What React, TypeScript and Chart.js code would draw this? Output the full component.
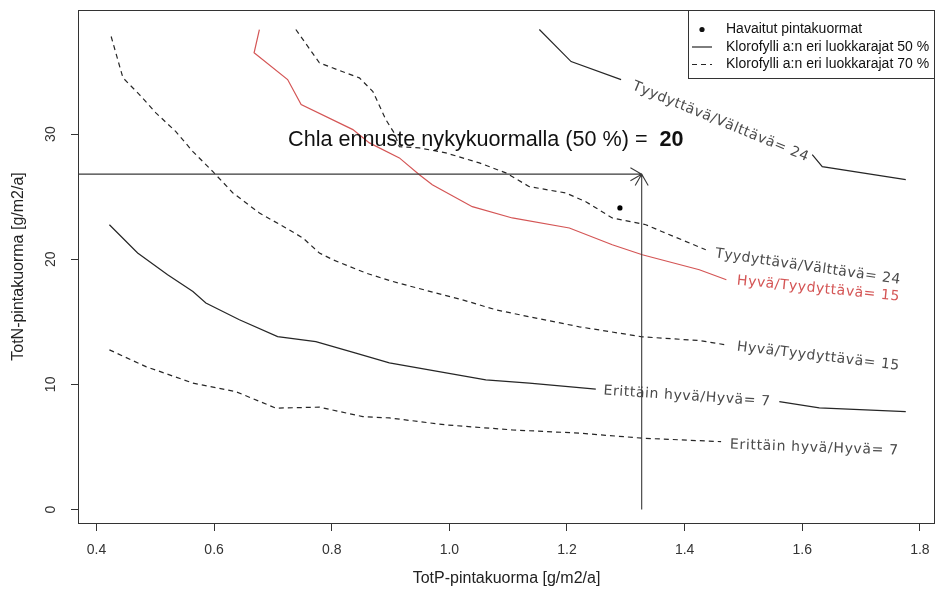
import React, { useEffect, useRef } from "react";
import { Chart, registerables } from "chart.js";

Chart.register(...registerables);

// ---------- data ----------
const X_TICKS = [0.4, 0.6, 0.8, 1.0, 1.2, 1.4, 1.6, 1.8];
const Y_TICKS = [0, 10, 20, 30];
const X_RANGE = [0.3686, 1.8257];
const Y_RANGE = [-1.08, 39.92];

const X_TITLE = "TotP-pintakuorma [g/m2/a]";
const Y_TITLE = "TotN-pintakuorma [g/m2/a]";

const LEGEND_LABELS = [
  "Havaitut pintakuormat",
  "Klorofylli a:n eri luokkarajat 50 %",
  "Klorofylli a:n eri luokkarajat 70 %",
];

// 50 % class limits (solid)
const C50_24_A = [[1.153, 38.36], [1.207, 35.8], [1.292, 34.36]];
const C50_24_B = [[1.617, 28.36], [1.634, 27.4], [1.776, 26.36]];
const C50_15 = [
  [0.677, 38.36], [0.668, 36.5], [0.725, 34.36], [0.748, 32.36], [0.836, 30.36],
  [0.864, 29.3], [0.915, 28.1], [0.949, 26.76], [0.971, 25.96], [1.039, 24.2],
  [1.107, 23.3], [1.204, 22.5], [1.277, 21.16], [1.328, 20.36], [1.425, 19.16],
  [1.471, 18.36],
];
const C50_7_A = [
  [0.422, 22.76], [0.47, 20.5], [0.521, 18.76], [0.564, 17.42], [0.586, 16.5],
  [0.643, 15.16], [0.708, 13.82], [0.773, 13.42], [0.841, 12.5], [0.898, 11.72],
  [1.062, 10.36], [1.136, 10.1], [1.249, 9.62],
];
const C50_7_B = [[1.561, 8.62], [1.629, 8.12], [1.776, 7.82]];

// 70 % class limits (dashed)
const C70_24 = [
  [0.739, 38.36], [0.779, 35.7], [0.801, 35.3], [0.847, 34.5], [0.87, 33.4],
  [0.892, 31.16], [0.906, 30.1], [0.915, 29.0], [0.949, 28.9], [0.994, 28.5],
  [1.051, 27.7], [1.096, 26.9], [1.136, 25.8], [1.198, 25.3], [1.232, 24.6],
  [1.277, 23.3], [1.334, 22.76], [1.362, 22.2], [1.436, 20.76],
];
const C70_15 = [
  [0.425, 37.8], [0.445, 34.5], [0.473, 33.16], [0.501, 31.7], [0.535, 30.2],
  [0.564, 28.6], [0.598, 27.0], [0.632, 25.3], [0.677, 23.7], [0.722, 22.5],
  [0.751, 21.7], [0.779, 20.5], [0.802, 19.96], [0.858, 18.9], [0.898, 18.3],
  [0.937, 17.8], [1.022, 16.76], [1.079, 15.96], [1.136, 15.4], [1.221, 14.6],
  [1.328, 13.8], [1.425, 13.5], [1.47, 13.16],
];
const C70_7 = [
  [0.422, 12.76], [0.484, 11.42], [0.564, 10.1], [0.637, 9.42], [0.705, 8.1],
  [0.779, 8.18], [0.853, 7.42], [0.898, 7.32], [0.994, 6.76], [1.107, 6.36],
  [1.221, 6.1], [1.328, 5.7], [1.462, 5.42],
];

const OBSERVED = [[1.29, 24.1]];
const CURRENT_P = 1.327;
const CURRENT_N = 26.8;
const PREDICTION = 20;
const PRED_TEXT = "Chla ennuste nykykuormalla (50 %) =  ";
const PRED_POS = [1.062, 29.56];

// contour labels: text, start and end of the text line (data units), red?
const LABEL_TEXTS = [
  "Tyydyttävä/Välttävä= 24",
  "Tyydyttävä/Välttävä= 24",
  "Hyvä/Tyydyttävä= 15",
  "Hyvä/Tyydyttävä= 15",
  "Erittäin hyvä/Hyvä= 7",
  "Erittäin hyvä/Hyvä= 7",
];
const LABEL_FROM = [[1.312, 33.88], [1.452, 20.44], [1.489, 18.28], [1.489, 13.0], [1.262, 9.48], [1.477, 5.16]];
const LABEL_TO = [[1.604, 28.2], [1.761, 18.36], [1.761, 17.0], [1.761, 11.48], [1.545, 8.6], [1.763, 4.68]];
const LABEL_RED = [false, false, true, false, false, false];

// ---------- styles ----------
const BLACK = "#262626";
const RED = "#d45555";
const LABEL_GRAY = "#4a4a4a";
const DASH = [5, 4];
const SANS = '"Liberation Sans", Arial, sans-serif';

const pts = (arr: number[][]) => arr.map(([x, y]) => ({ x, y }));

function lineDs(data: number[][], color: string, dashed: boolean) {
  return {
    data: pts(data),
    showLine: true,
    borderColor: color,
    borderWidth: 1.2,
    borderDash: dashed ? DASH : [],
    pointRadius: 0,
    pointHoverRadius: 0,
    fill: false,
    tension: 0,
  };
}

const overlayPlugin = {
  id: "overlay",
  afterDatasetsDraw(chart: any) {
    const { ctx, chartArea: a, scales } = chart;
    const xs = scales.x;
    const ys = scales.y;
    const px = (v: number) => xs.getPixelForValue(v);
    const py = (v: number) => ys.getPixelForValue(v);

    // contour labels
    LABEL_TEXTS.forEach((t, i) => {
      const x0 = px(LABEL_FROM[i][0]);
      const y0 = py(LABEL_FROM[i][1]);
      const x1 = px(LABEL_TO[i][0]);
      const y1 = py(LABEL_TO[i][1]);
      const len = Math.hypot(x1 - x0, y1 - y0);
      const ang = Math.atan2(y1 - y0, x1 - x0);
      ctx.save();
      ctx.font = '12px "DejaVu Sans"';
      const w = ctx.measureText(t).width;
      const fs = Math.max(9, Math.min(14, (12 * len) / w));
      ctx.font = `${fs.toFixed(2)}px "DejaVu Sans"`;
      const w2 = ctx.measureText(t).width;
      const extra = (len - w2) / Math.max(1, t.length - 1);
      ctx.translate(x0, y0);
      ctx.rotate(ang);
      ctx.fillStyle = LABEL_RED[i] ? RED : LABEL_GRAY;
      ctx.textAlign = "left";
      ctx.textBaseline = "middle";
      let cx = 0;
      for (const ch of t) {
        ctx.fillText(ch, cx, 0);
        cx += ctx.measureText(ch).width + extra;
      }
      ctx.restore();
    });

    // arrows to current load
    const ax = px(CURRENT_P);
    const ay = py(CURRENT_N);
    const y0 = py(0);
    ctx.save();
    ctx.strokeStyle = "#3a3a3a";
    ctx.lineWidth = 1.1;
    ctx.beginPath();
    ctx.moveTo(a.left, ay);
    ctx.lineTo(ax, ay);
    ctx.moveTo(ax, y0);
    ctx.lineTo(ax, ay);
    const hl = 13;
    const ha = Math.PI / 6;
    ctx.moveTo(ax - hl * Math.cos(ha), ay - hl * Math.sin(ha));
    ctx.lineTo(ax, ay);
    ctx.lineTo(ax - hl * Math.cos(ha), ay + hl * Math.sin(ha));
    ctx.moveTo(ax - hl * Math.sin(ha), ay + hl * Math.cos(ha));
    ctx.lineTo(ax, ay);
    ctx.lineTo(ax + hl * Math.sin(ha), ay + hl * Math.cos(ha));
    ctx.stroke();
    ctx.restore();

    // prediction text
    ctx.save();
    const reg = `21.6px ${SANS}`;
    const bold = `bold 21.6px ${SANS}`;
    ctx.font = reg;
    const w1 = ctx.measureText(PRED_TEXT).width;
    ctx.font = bold;
    const w2 = ctx.measureText(String(PREDICTION)).width;
    const cx = px(PRED_POS[0]);
    const cy = py(PRED_POS[1]);
    const start = cx - (w1 + w2) / 2;
    ctx.fillStyle = "#111";
    ctx.textBaseline = "middle";
    ctx.textAlign = "left";
    ctx.font = reg;
    ctx.fillText(PRED_TEXT, start, cy);
    ctx.font = bold;
    ctx.fillText(String(PREDICTION), start + w1, cy);
    ctx.restore();
  },
  afterDraw(chart: any) {
    const { ctx, chartArea: a, scales } = chart;
    const ys = scales.y;
    ctx.save();
    // y tick labels (vertical, R style)
    ctx.fillStyle = "#333";
    ctx.font = `14px ${SANS}`;
    ctx.textAlign = "center";
    ctx.textBaseline = "middle";
    Y_TICKS.forEach((v) => {
      ctx.save();
      ctx.translate(a.left - 27, ys.getPixelForValue(v));
      ctx.rotate(-Math.PI / 2);
      ctx.fillText(String(v), 0, 0);
      ctx.restore();
    });

    // legend
    const L = 688.5;
    const T = a.top + 0.5;
    const R = a.right - 0.5;
    const B = 78.5;
    ctx.fillStyle = "#fff";
    ctx.fillRect(L, T, R - L, B - T);
    ctx.strokeStyle = "#333";
    ctx.lineWidth = 1;
    ctx.strokeRect(L, T, R - L, B - T);
    const rows = [29.5, 47, 64.5];
    ctx.fillStyle = "#111";
    ctx.beginPath();
    ctx.arc(702, rows[0], 2.6, 0, Math.PI * 2);
    ctx.fill();
    ctx.strokeStyle = BLACK;
    ctx.lineWidth = 1.2;
    ctx.beginPath();
    ctx.moveTo(692, rows[1]);
    ctx.lineTo(712, rows[1]);
    ctx.stroke();
    ctx.setLineDash(DASH);
    ctx.beginPath();
    ctx.moveTo(692, rows[2]);
    ctx.lineTo(712, rows[2]);
    ctx.stroke();
    ctx.setLineDash([]);
    ctx.font = `14px ${SANS}`;
    ctx.textAlign = "left";
    ctx.textBaseline = "middle";
    ctx.fillStyle = "#111";
    LEGEND_LABELS.forEach((t, i) => ctx.fillText(t, 726, rows[i]));

    // plot frame
    ctx.strokeStyle = "#333";
    ctx.lineWidth = 1;
    ctx.strokeRect(Math.round(a.left) + 0.5, Math.round(a.top) + 0.5, Math.round(a.right - a.left) - 1, Math.round(a.bottom - a.top));
    ctx.restore();
  },
};

export default function App() {
  const ref = useRef<HTMLCanvasElement | null>(null);

  useEffect(() => {
    if (!ref.current) return;
    const chart = new Chart(ref.current, {
      type: "scatter",
      data: {
        datasets: [
          lineDs(C50_24_A, BLACK, false),
          lineDs(C50_24_B, BLACK, false),
          lineDs(C50_15, RED, false),
          lineDs(C50_7_A, BLACK, false),
          lineDs(C50_7_B, BLACK, false),
          lineDs(C70_24, BLACK, true),
          lineDs(C70_15, BLACK, true),
          lineDs(C70_7, BLACK, true),
          {
            data: pts(OBSERVED),
            showLine: false,
            pointRadius: 2.6,
            pointBackgroundColor: "#000",
            pointBorderWidth: 0,
          } as any,
        ],
      },
      options: {
        animation: false,
        responsive: false,
        devicePixelRatio: 1,
        layout: { padding: { left: 0, top: 10, right: 3, bottom: 0 } },
        plugins: {
          legend: { display: false },
          tooltip: { enabled: false },
        },
        events: [],
        scales: {
          x: {
            type: "linear",
            min: X_RANGE[0],
            max: X_RANGE[1],
            afterBuildTicks: (s: any) => {
              s.ticks = X_TICKS.map((v) => ({ value: v }));
            },
            afterFit: (s: any) => {
              s.height = 71;
              s.paddingLeft = 0;
              s.paddingRight = 0;
            },
            border: { display: false },
            grid: { drawOnChartArea: false, drawTicks: true, tickLength: 8, color: "#333" },
            ticks: {
              color: "#333",
              font: { family: SANS, size: 14 },
              padding: 11,
              maxRotation: 0,
              callback: (v: any) => Number(v).toFixed(1),
            },
            title: {
              display: true,
              text: X_TITLE,
              color: "#222",
              font: { family: SANS, size: 16 },
              padding: { top: 0, bottom: 6 },
            },
          },
          y: {
            type: "linear",
            min: Y_RANGE[0],
            max: Y_RANGE[1],
            afterBuildTicks: (s: any) => {
              s.ticks = Y_TICKS.map((v) => ({ value: v }));
            },
            afterFit: (s: any) => {
              s.width = 78;
              s.paddingTop = 0;
              s.paddingBottom = 0;
            },
            border: { display: false },
            grid: { drawOnChartArea: false, drawTicks: true, tickLength: 7, color: "#333" },
            ticks: { color: "rgba(0,0,0,0)", font: { family: SANS, size: 13 } },
            title: {
              display: true,
              text: Y_TITLE,
              color: "#222",
              font: { family: SANS, size: 16 },
              padding: { top: 9, bottom: 0 },
            },
          },
        },
      },
      plugins: [overlayPlugin],
    } as any);
    return () => chart.destroy();
  }, []);

  return (
    <div style={{ position: "fixed", left: 0, top: 0, width: 939, height: 594, background: "#fff" }}>
      <canvas ref={ref} width={939} height={594} style={{ display: "block", width: 939, height: 594 }} />
    </div>
  );
}
